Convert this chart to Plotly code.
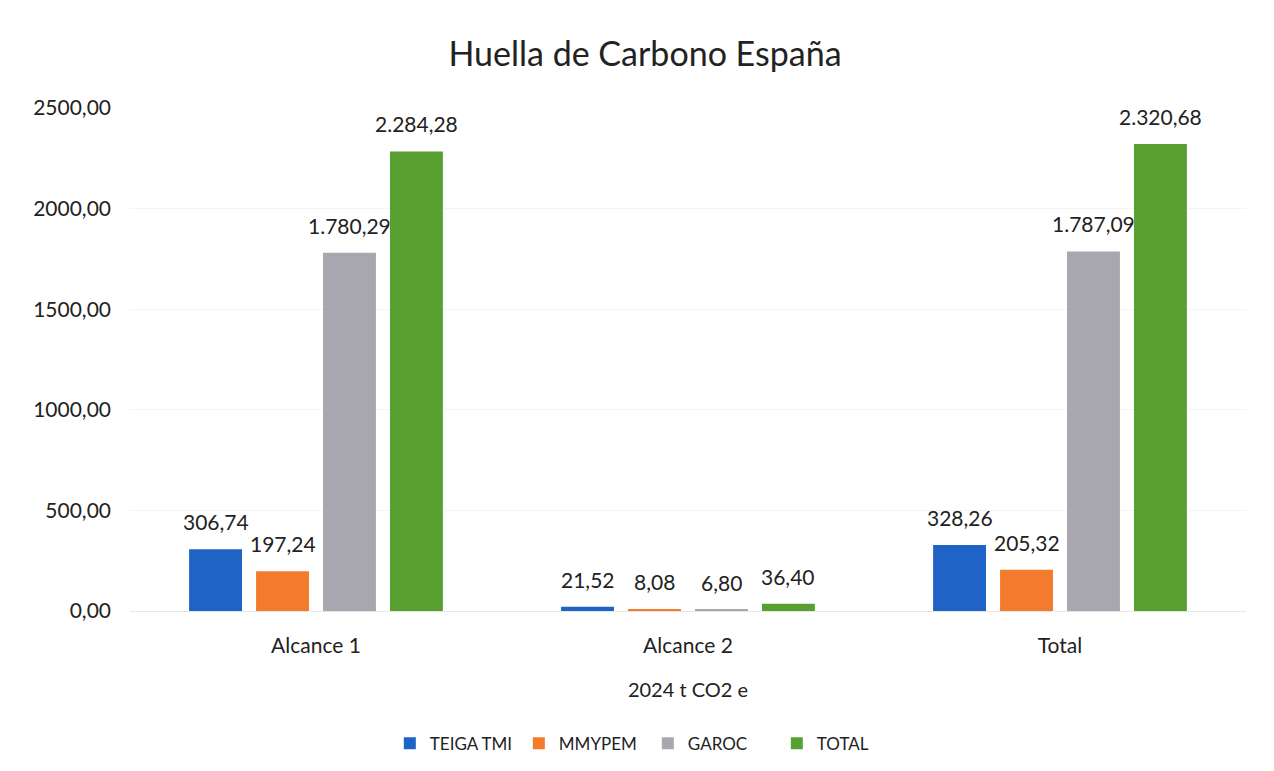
import plotly.graph_objects as go

categorias = ["Alcance 1", "Alcance 2", "Total"]
teiga_tmi = [306.74, 21.52, 328.26]
mmypem = [197.24, 8.08, 205.32]
garoc = [1780.29, 6.80, 1787.09]
total = [2284.28, 36.40, 2320.68]

series = [
    ("TEIGA TMI", teiga_tmi, "#1F63C6"),
    ("MMYPEM", mmypem, "#F27B2E"),
    ("GAROC", garoc, "#A8A7B0"),
    ("TOTAL", total, "#58A032"),
]

ancho, alto = 1274, 771
m_izq, m_der, m_sup, m_inf = 122, 36, 100, 168
bargap = 0.28

fig = go.Figure()
for nombre, valores, color in series:
    fig.add_trace(go.Bar(
        name=nombre,
        x=categorias,
        y=valores,
        marker=dict(color=color, line=dict(width=0)),
    ))

# etiquetas de datos como anotaciones, para dejarlas un poco mas altas que el texto "outside"
ancho_cat = (ancho - m_izq - m_der) / len(categorias)
hueco = ancho_cat * (1 - bargap) / len(series)
for i, (nombre, valores, color) in enumerate(series):
    for cat, v in zip(categorias, valores):
        etiqueta = f"{v:,.2f}".replace(",", "X").replace(".", ",").replace("X", ".")
        fig.add_annotation(
            x=cat, y=v, text=etiqueta, showarrow=False,
            xanchor="center", yanchor="bottom",
            xshift=(i - (len(series) - 1) / 2) * hueco, yshift=13,
            font=dict(size=21, color="#222222"),
        )

# la pagina tiene 8px de margen en el body, se compensa aqui
fig.update_layout(
    width=ancho,
    height=alto,
    separators=",.",
    font=dict(family="Lato, sans-serif", color="#333333"),
    title=dict(text="Huella de Carbono España", x=0.5, xanchor="center",
               y=0.94, yanchor="middle", font=dict(size=34, color="#222222")),
    barmode="group",
    bargap=bargap,
    bargroupgap=0.21,
    plot_bgcolor="white",
    paper_bgcolor="white",
    margin=dict(l=m_izq, r=m_der, t=m_sup, b=m_inf),
    legend=dict(orientation="h", x=0.464, xanchor="center", y=-0.228, yanchor="top",
                font=dict(size=17, color="#222222"), itemwidth=30, traceorder="normal",
                entrywidth=84),
)
fig.update_yaxes(
    range=[0, 2500],
    dtick=500,
    tickformat=".2f",
    showgrid=True,
    gridcolor="#f4f4f4",
    zeroline=False,
    tickfont=dict(size=21, color="#222222"),
    ticklabelstandoff=18,
)
fig.update_xaxes(
    showline=True,
    linecolor="#e6e6e6",
    tickfont=dict(size=21, color="#222222"),
    ticklabelstandoff=16,
    title=dict(text="2024 t CO2 e", font=dict(size=20, color="#222222"), standoff=26),
)

fig.write_html("out.html")
